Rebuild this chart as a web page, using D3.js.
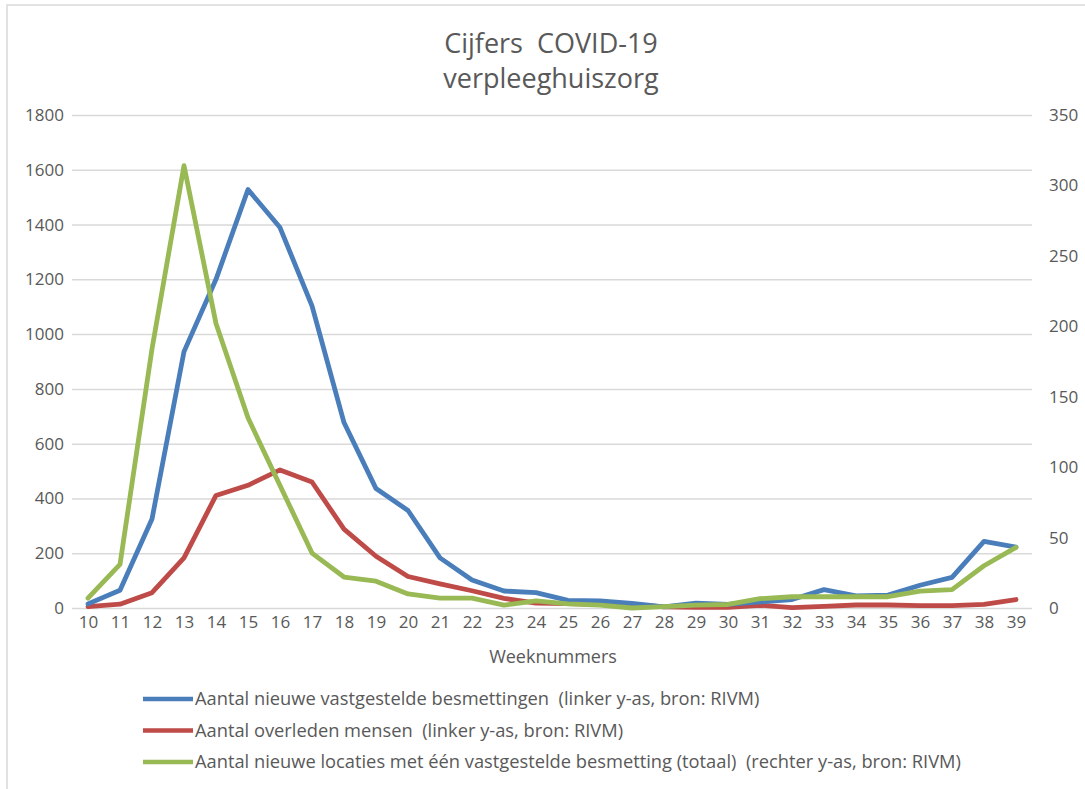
<!DOCTYPE html>
<html>
<head>
<meta charset="utf-8">
<script src="https://d3js.org/d3.v7.min.js"></script>
<style>
body { margin: 0; background: #fff; }
svg text { font-family: "Open Sans", "Liberation Sans", sans-serif; fill: #595959; }
.grid line { stroke: #d9d9d9; stroke-width: 1.5px; }
.grid path { display: none; }
</style>
</head>
<body>
<div id="chart"></div>
<script>
// weeknummers 10 t/m 39
var weeks = ["10","11","12","13","14","15","16","17","18","19","20","21","22","23","24",
             "25","26","27","28","29","30","31","32","33","34","35","36","37","38","39"];

// linker y-as
var besmettingen = [15, 65, 325, 936, 1200, 1528, 1389, 1103, 677, 436, 356, 183, 102, 62, 56,
                    28, 26, 17, 4, 18, 13, 22, 31, 67, 44, 47, 83, 112, 243, 222];
var overleden = [5, 14, 56, 183, 411, 448, 504, 460, 288, 189, 115, 88, 63, 35, 18,
                 16, 13, 13, 4, 2, 2, 10, 1, 6, 11, 11, 9, 9, 13, 31];
// rechter y-as
var locaties = [7, 31, 184, 314, 202, 135, 87, 39, 22, 19, 10, 7, 7, 2, 5,
                3, 2, 0, 1, 2, 2.5, 6.6, 8, 8, 8, 8, 12, 13, 30, 43];

var leftTicks = [0, 200, 400, 600, 800, 1000, 1200, 1400, 1600, 1800];
var rightTicks = [0, 50, 100, 150, 200, 250, 300, 350];

var legendLabels = [
  "Aantal nieuwe vastgestelde besmettingen  (linker y-as, bron: RIVM)",
  "Aantal overleden mensen  (linker y-as, bron: RIVM)",
  "Aantal nieuwe locaties met één vastgestelde besmetting (totaal)  (rechter y-as, bron: RIVM)"
];

var W = 1085, H = 789;
var plot = {left: 72, right: 1032, top: 115, bottom: 608};

var svg = d3.select("#chart").append("svg").attr("width", W).attr("height", H);

// chart frame (runs off the picture at right and bottom)
svg.append("rect").attr("x", 7).attr("y", 5).attr("width", W + 20).attr("height", H + 20)
  .attr("fill", "#fff").attr("stroke", "#d9d9d9").attr("stroke-width", 1.5);

var x = d3.scalePoint().domain(weeks).range([plot.left, plot.right]).padding(0.5);
var yL = d3.scaleLinear().domain([0, 1800]).range([plot.bottom, plot.top]);
var yR = d3.scaleLinear().domain([0, 350]).range([plot.bottom, plot.top]);

// gridlines
svg.append("g").attr("class", "grid")
  .attr("transform", "translate(" + plot.left + ",0)")
  .call(d3.axisLeft(yL).tickValues(leftTicks).tickSize(-(plot.right - plot.left)).tickFormat(""));

// left axis labels
var la = svg.append("g").attr("transform", "translate(64,0)")
  .call(d3.axisLeft(yL).tickValues(leftTicks).tickSize(0).tickPadding(0).tickFormat(d3.format("d")));
la.select(".domain").remove();
la.selectAll("text").style("font-size", "17px").attr("fill", "#595959");

// right axis labels
var ra = svg.append("g").attr("transform", "translate(1049,0)")
  .call(d3.axisRight(yR).tickValues(rightTicks).tickSize(0).tickPadding(0).tickFormat(d3.format("d")));
ra.select(".domain").remove();
ra.selectAll("text").style("font-size", "17px").attr("fill", "#595959");

// x axis labels
var xa = svg.append("g").attr("transform", "translate(0," + (plot.bottom + 8) + ")")
  .call(d3.axisBottom(x).tickSize(0).tickPadding(0));
xa.select(".domain").remove();
xa.selectAll("text").style("font-size", "17px").attr("fill", "#595959");

svg.append("text").attr("x", 553).attr("y", 663).attr("text-anchor", "middle")
  .style("font-size", "18px").text("Weeknummers");

// title
svg.append("text").attr("x", 551).attr("y", 53).attr("text-anchor", "middle")
  .style("font-size", "27px").style("white-space", "pre").text("Cijfers  COVID-19");
svg.append("text").attr("x", 551).attr("y", 88).attr("text-anchor", "middle")
  .style("font-size", "27px").text("verpleeghuiszorg");

var series = [
  {values: besmettingen, y: yL, color: "#4a7ebb"},
  {values: overleden, y: yL, color: "#be4b48"},
  {values: locaties, y: yR, color: "#98b954"}
];

// draw red first, then blue, green on top
[1, 0, 2].forEach(function(i) {
  var s = series[i];
  var line = d3.line()
    .x(function(d, j) { return x(weeks[j]); })
    .y(function(d) { return s.y(d); });
  svg.append("path").datum(s.values)
    .attr("d", line)
    .attr("fill", "none")
    .attr("stroke", s.color)
    .attr("stroke-width", 4.8)
    .attr("stroke-linejoin", "round")
    .attr("stroke-linecap", "round");
});

// legend
var lg = svg.selectAll(".legend").data(series).enter().append("g")
  .attr("transform", function(d, i) { return "translate(143," + (699 + i * 31.5) + ")"; });
lg.append("line").attr("x1", 0).attr("x2", 50).attr("y1", 0).attr("y2", 0)
  .attr("stroke", function(d) { return d.color; }).attr("stroke-width", 4.5);
lg.append("text").attr("x", 52).attr("y", 6).style("font-size", "18.3px").style("white-space", "pre")
  .text(function(d, i) { return legendLabels[i]; });
</script>
</body>
</html>
